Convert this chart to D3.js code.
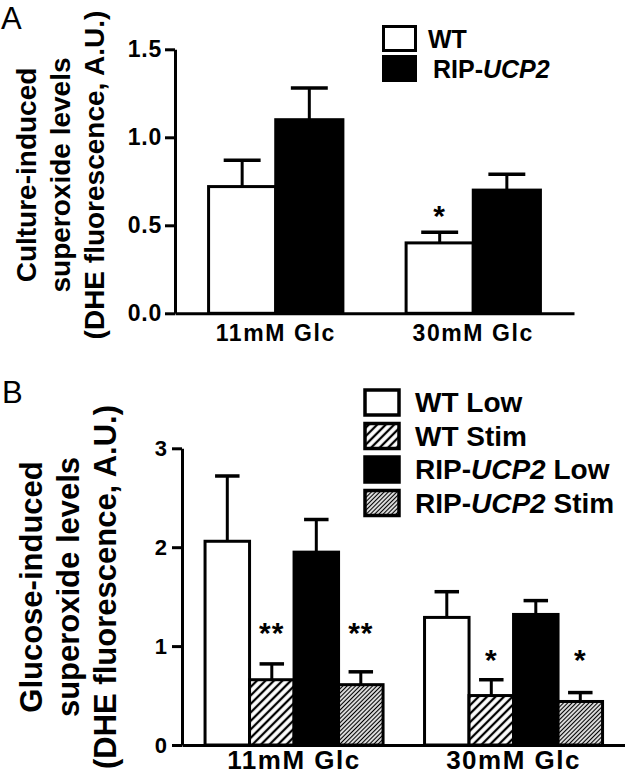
<!DOCTYPE html>
<html><head><meta charset="utf-8">
<script src="https://cdn.jsdelivr.net/npm/d3@7"></script>
<style>
body{margin:0;background:#fff}
svg{display:block}
text{font-family:"Liberation Sans",Arial,Helvetica,sans-serif;fill:#000}
</style></head>
<body><svg id="c" width="625" height="776"></svg>
<script>
// ---------- DATA ----------
// Panel A
const groupsA = ["11mM Glc", "30mM Glc"];
const seriesNamesA = ["WT", "RIP-UCP2"];
const wtA = [0.72, 0.40];
const wtA_sem = [0.15, 0.06];
const ripA = [1.10, 0.70];
const ripA_sem = [0.18, 0.09];
const starsA_wt = ["", "*"];
const starsA_rip = ["", ""];
const starLevelA = [0, 0.59];
const ticksA = [0, 0.5, 1.0, 1.5];
const yLabelA = ["Culture-induced", "superoxide levels", "(DHE fluorescence, A.U.)"];

// Panel B
const groupsB = ["11mM Glc", "30mM Glc"];
const seriesNamesB = ["WT Low", "WT Stim", "RIP-UCP2 Low", "RIP-UCP2 Stim"];
const wtLowB = [2.06, 1.29];
const wtLowB_sem = [0.66, 0.26];
const wtStimB = [0.66, 0.50];
const wtStimB_sem = [0.16, 0.16];
const ripLowB = [1.95, 1.32];
const ripLowB_sem = [0.33, 0.14];
const ripStimB = [0.61, 0.44];
const ripStimB_sem = [0.13, 0.09];
const starsB_wtStim = ["**", "*"];
const starsB_ripStim = ["**", "*"];
const starLevelB = [1.2, 0.93];
const ticksB = [0, 1, 2, 3];
const yLabelB = ["Glucose-induced", "superoxide levels", "(DHE fluorescence, A.U.)"];

// ---------- DRAWING ----------
const svg = d3.select("#c");
const defs = svg.append("defs");
function hatch(id, w, lw) {
  const p = defs.append("pattern").attr("id", id).attr("patternUnits", "userSpaceOnUse")
    .attr("width", w).attr("height", w).attr("patternTransform", "rotate(45)");
  p.append("rect").attr("width", w).attr("height", w).attr("fill", "#fff");
  p.append("line").attr("x1", w / 2).attr("x2", w / 2).attr("y1", 0).attr("y2", w)
    .attr("stroke", "#000").attr("stroke-width", lw);
}
hatch("hWide", 6, 2.3);
hatch("hFine", 3, 1.3);

const FILLS = {"WT": "#fff", "RIP-UCP2": "#000",
  "WT Low": "#fff", "WT Stim": "url(#hWide)", "RIP-UCP2 Low": "#000", "RIP-UCP2 Stim": "url(#hFine)"};

function legendLabel(sel, name) {
  const m = name.match(/^(RIP-)(UCP2?)(.*)$/);
  if (!m) { sel.text(name); return; }
  sel.append("tspan").text(m[1]);
  sel.append("tspan").attr("font-style", "italic").text(m[2]);
  if (m[3]) sel.append("tspan").text(m[3]);
}

function panel(cfg) {
  const g = svg.append("g");
  const x0 = d3.scaleBand().domain(cfg.groups).range(cfg.xr)
    .paddingInner(cfg.pi).paddingOuter(cfg.po);
  const x1 = d3.scaleBand().domain(cfg.series.map(s => s.name)).range([0, x0.bandwidth()]);
  const y = d3.scaleLinear().domain(cfg.ydom).range(cfg.yr);
  const capW = x1.bandwidth() * 0.55;

  cfg.series.forEach(s => {
    const sg = g.append("g");
    const rows = cfg.groups.map((grp, i) => ({grp, v: s.mean[i], e: s.sem[i], star: s.stars[i], lvl: cfg.starLevel[i]}));
    sg.selectAll("rect").data(rows).join("rect")
      .attr("x", d => x0(d.grp) + x1(s.name))
      .attr("width", x1.bandwidth())
      .attr("y", d => y(d.v))
      .attr("height", d => y(0) - y(d.v))
      .attr("fill", FILLS[s.name]).attr("stroke", "#000").attr("stroke-width", 3);
    const cx = d => x0(d.grp) + x1(s.name) + x1.bandwidth() / 2;
    sg.selectAll("line.ev").data(rows).join("line").attr("class", "ev")
      .attr("x1", cx).attr("x2", cx)
      .attr("y1", d => y(d.v)).attr("y2", d => y(d.v + d.e))
      .attr("stroke", "#000").attr("stroke-width", 3);
    sg.selectAll("line.cap").data(rows).join("line").attr("class", "cap")
      .attr("x1", d => cx(d) - capW / 2).attr("x2", d => cx(d) + capW / 2)
      .attr("y1", d => y(d.v + d.e)).attr("y2", d => y(d.v + d.e))
      .attr("stroke", "#000").attr("stroke-width", 3.5);
    sg.selectAll("text.star").data(rows.filter(d => d.star)).join("text").attr("class", "star")
      .attr("x", cx).attr("y", d => y(d.lvl) + 0.56 * cfg.starFs)
      .attr("text-anchor", "middle").attr("font-size", cfg.starFs).attr("font-weight", "bold")
      .attr("letter-spacing", 1)
      .text(d => d.star);
  });

  // axes
  const ya = g.append("g").attr("transform", `translate(${cfg.xr[0]},0)`)
    .call(d3.axisLeft(y).tickValues(cfg.ticks).tickFormat(cfg.fmt).tickSize(10).tickSizeOuter(0).tickPadding(cfg.tpad));
  ya.selectAll("path,line").attr("stroke", "#000").attr("stroke-width", 3);
  ya.selectAll("text").attr("font-size", cfg.tickFs).attr("font-weight", "bold")
    .attr("font-family", null).attr("letter-spacing", cfg.tickLs);
  const xa = g.append("g").attr("transform", `translate(0,${cfg.yr[0]})`)
    .call(d3.axisBottom(x0).tickSize(0).tickSizeOuter(0).tickPadding(cfg.xpad));
  xa.select("path").attr("stroke", "#000").attr("stroke-width", 3);
  xa.selectAll("text").attr("font-size", cfg.xFs).attr("font-weight", "bold")
    .attr("font-family", null).attr("letter-spacing", cfg.xLs);

  // y label
  cfg.ylabel.forEach((t, i) => {
    g.append("text").attr("transform", `translate(${cfg.ylx[i]},${cfg.ylcy}) rotate(-90)`)
      .attr("text-anchor", "middle").attr("font-size", cfg.ylFs).attr("font-weight", "bold").text(t);
  });

  // legend
  cfg.series.forEach((s, i) => {
    const ly = cfg.leg.y + i * cfg.leg.pitch;
    g.append("rect").attr("x", cfg.leg.x).attr("y", ly).attr("width", cfg.leg.w).attr("height", cfg.leg.h)
      .attr("fill", FILLS[s.name]).attr("stroke", "#000").attr("stroke-width", cfg.leg.sw);
    const t = g.append("text").attr("x", cfg.leg.tx[i] ?? cfg.leg.tx[0]).attr("y", ly + cfg.leg.h / 2 + cfg.leg.dy)
      .attr("font-size", cfg.leg.fs).attr("font-weight", "bold");
    legendLabel(t, s.name);
  });

  // panel letter
  svg.append("text").attr("x", cfg.letter.x).attr("y", cfg.letter.y)
    .attr("font-size", 31).text(cfg.letter.t);
}

panel({
  groups: groupsA,
  series: [
    {name: seriesNamesA[0], mean: wtA, sem: wtA_sem, stars: starsA_wt},
    {name: seriesNamesA[1], mean: ripA, sem: ripA_sem, stars: starsA_rip}
  ],
  starLevel: starLevelA, starFs: 30,
  xr: [175, 574], pi: 0.32, po: 0.17,
  ydom: [0, 1.5], yr: [313.3, 49.3],
  ticks: ticksA, fmt: d3.format(".1f"), tpad: 3, tickFs: 23, tickLs: 0.8,
  xpad: 11, xFs: 23, xLs: 1.6,
  ylabel: yLabelA, ylx: [36, 70, 104], ylcy: 175, ylFs: 28,
  leg: {x: 383.5, y: 26.5, w: 32, h: 24, pitch: 30, sw: 3, tx: [428, 433], dy: 9.5, fs: 25},
  letter: {x: 1, y: 29, t: "A"}
});

panel({
  groups: groupsB,
  series: [
    {name: seriesNamesB[0], mean: wtLowB, sem: wtLowB_sem, stars: ["", ""]},
    {name: seriesNamesB[1], mean: wtStimB, sem: wtStimB_sem, stars: starsB_wtStim},
    {name: seriesNamesB[2], mean: ripLowB, sem: ripLowB_sem, stars: ["", ""]},
    {name: seriesNamesB[3], mean: ripStimB, sem: ripStimB_sem, stars: starsB_ripStim}
  ],
  starLevel: starLevelB, starFs: 30,
  xr: [182, 625.6], pi: 0.189, po: 0.105,
  ydom: [0, 3], yr: [745, 448.3],
  ticks: ticksB, fmt: d3.format("d"), tpad: 5, tickFs: 22, tickLs: 0,
  xpad: 6, xFs: 26, xLs: 1.5,
  ylabel: yLabelB, ylx: [42, 79, 116], ylcy: 587, ylFs: 31,
  leg: {x: 365, y: 390, w: 34, h: 25, pitch: 33.5, sw: 3.5, tx: [415], dy: 9.5, fs: 28},
  letter: {x: 2, y: 403, t: "B"}
});
</script></body></html>
